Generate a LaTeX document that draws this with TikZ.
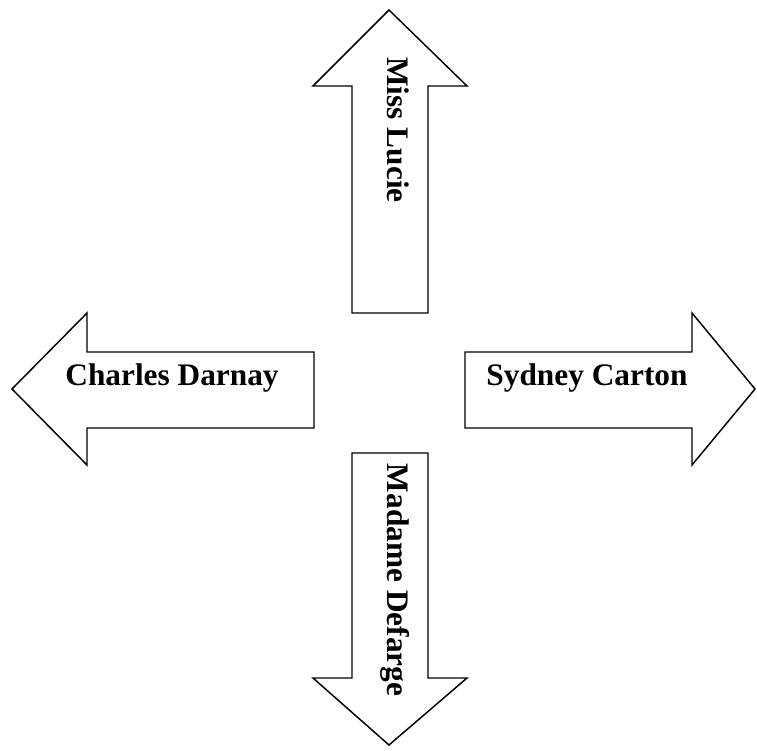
\documentclass[tikz,border=0pt]{standalone}
\usepackage{fontspec}
\setmainfont{Liberation Serif}
\begin{document}
\begin{tikzpicture}[x=0.75pt,y=-0.75pt,
  blockarrow/.style={draw=black,fill=white,line width=1.1pt,line join=miter},
  lbl/.style={font=\fontsize{23.5}{28}\selectfont\bfseries,inner sep=0pt,anchor=base}]
\useasboundingbox (0,0) rectangle (757,750);
% upward arrow
\draw[blockarrow] (352,313) -- (352,86) -- (313,86) -- (389,10) -- (467,86) -- (428,86) -- (428,313) -- cycle;
% leftward arrow
\draw[blockarrow] (314,352) -- (87,352) -- (87,313) -- (12,389) -- (87,465) -- (87,428) -- (314,428) -- cycle;
% rightward arrow
\draw[blockarrow] (465,352) -- (692,352) -- (692,313) -- (755,389) -- (692,465) -- (692,428) -- (465,428) -- cycle;
% downward arrow
\draw[blockarrow] (352,453) -- (352,678) -- (313,678) -- (389,745) -- (467,678) -- (428,678) -- (428,453) -- cycle;
% labels
\node[lbl] (lucie) at (387,130) [rotate=-90] {Miss Lucie};
\node[lbl] (charles) at (172,385) {Charles Darnay};
\node[lbl] (sydney) at (587,385) {Sydney Carton};
\node[lbl] (defarge) at (387,580) [rotate=-90] {Madame Defarge};
\end{tikzpicture}
\end{document}
